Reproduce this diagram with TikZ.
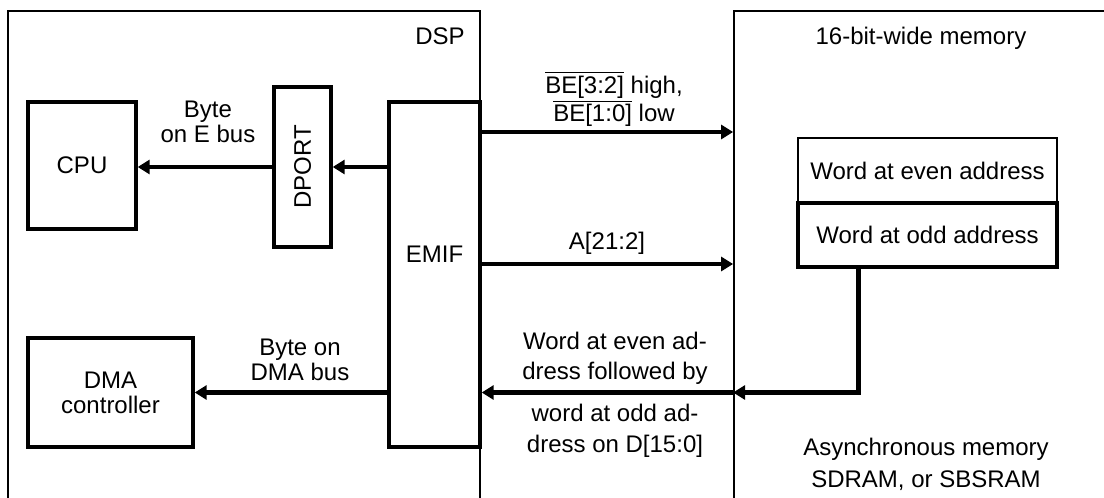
\documentclass[tikz,border=0pt]{standalone}
\usepackage{fontspec}
\setmainfont{Liberation Sans}
\usetikzlibrary{arrows.meta}

\begin{document}
\begin{tikzpicture}[x=0.5pt, y=-0.5pt, >={Triangle[length=6pt,width=7pt]},
    font=\fontsize{12}{12.5}\selectfont,
    frame/.style={rectangle, draw, line width=0.9pt, inner sep=0pt},
    block/.style={rectangle, draw, line width=1.7pt, align=center, inner sep=0pt},
    cell/.style={rectangle, draw, minimum width=129.5pt, minimum height=32.5pt, align=center},
    bus/.style={->, line width=2.1pt},
    lbl/.style={align=center, inner sep=0pt}]
    \useasboundingbox (0,0) rectangle (1104,498);
    \clip (0,0) rectangle (1104,498);
    % outer parts
    \node[frame, minimum width=236pt, minimum height=247pt] (dsp) at (244,258) {};
    \node[frame, minimum width=187pt, minimum height=247pt] (mem) at (921,258) {};
    \node[lbl] (dsplbl) at (440,36) {DSP};
    \node[lbl] (memlbl) at (921,38) {16-bit-wide memory};
    % DSP side
    \node[block, minimum width=54pt, minimum height=63.5pt] (cpu) at (82,165.5) {CPU};
    \node[block, minimum width=28.5pt, minimum height=80pt] (dport) at (302.5,167) {\rotatebox{90}{DPORT}};
    \node[block, minimum width=45.5pt, minimum height=172.5pt,
          label={[yshift=10pt]center:EMIF}] (emif) at (434.5,274.5) {};
    \node[block, minimum width=82.5pt, minimum height=54.5pt] (dma) at (110.5,392.5) {DMA\\controller};
    % memory side
    \node[cell, line width=1pt] (even) at (927.5,170.5) {Word at even address};
    \node[cell, line width=1.6pt, minimum height=32pt] (odd) at (927.5,235) {Word at odd address};
    \coordinate (beL) at (480,132);
    \coordinate (aL) at (480,264);
    \coordinate (tap) at ([xshift=31pt]odd.south west);
    % buses
    \draw[bus] (emif.west |- dport.east) -- (dport.east);
    \draw[bus] (dport.west) -- (cpu.east |- dport.west);
    \draw[bus] (beL) -- (beL -| mem.west);
    \draw[bus] (aL) -- (aL -| mem.west);
    \draw[bus] (tap) |- (mem.west |- dma);
    \draw[bus] (mem.west |- dma) -- (emif.east |- dma);
    \draw[bus] (emif.west |- dma) -- (dma.east);
    % bus labels
    \node[lbl] (ebus) at (208,122) {Byte\\on E bus};
    \node[lbl] (dmabus) at (300,360) {Byte on\\DMA bus};
    \node[lbl] (be) at (614,99) {$\overline{\hbox{BE[3:2]}}$ high,\\$\overline{\hbox{BE[1:0]}}$ low};
    \node[lbl] (addr) at (607,243) {A[21:2]};
    \node[lbl, font=\fontsize{12}{15}\selectfont] (data1) at (615,358) {Word at even ad-\\dress followed by};
    \node[lbl, font=\fontsize{12}{15.5}\selectfont] (data2) at (615,431) {word at odd ad-\\dress on D[15:0]};
    \node[lbl, font=\fontsize{12}{16}\selectfont] (async) at (926,464) {Asynchronous memory\\SDRAM, or SBSRAM};
\end{tikzpicture}
\end{document}
